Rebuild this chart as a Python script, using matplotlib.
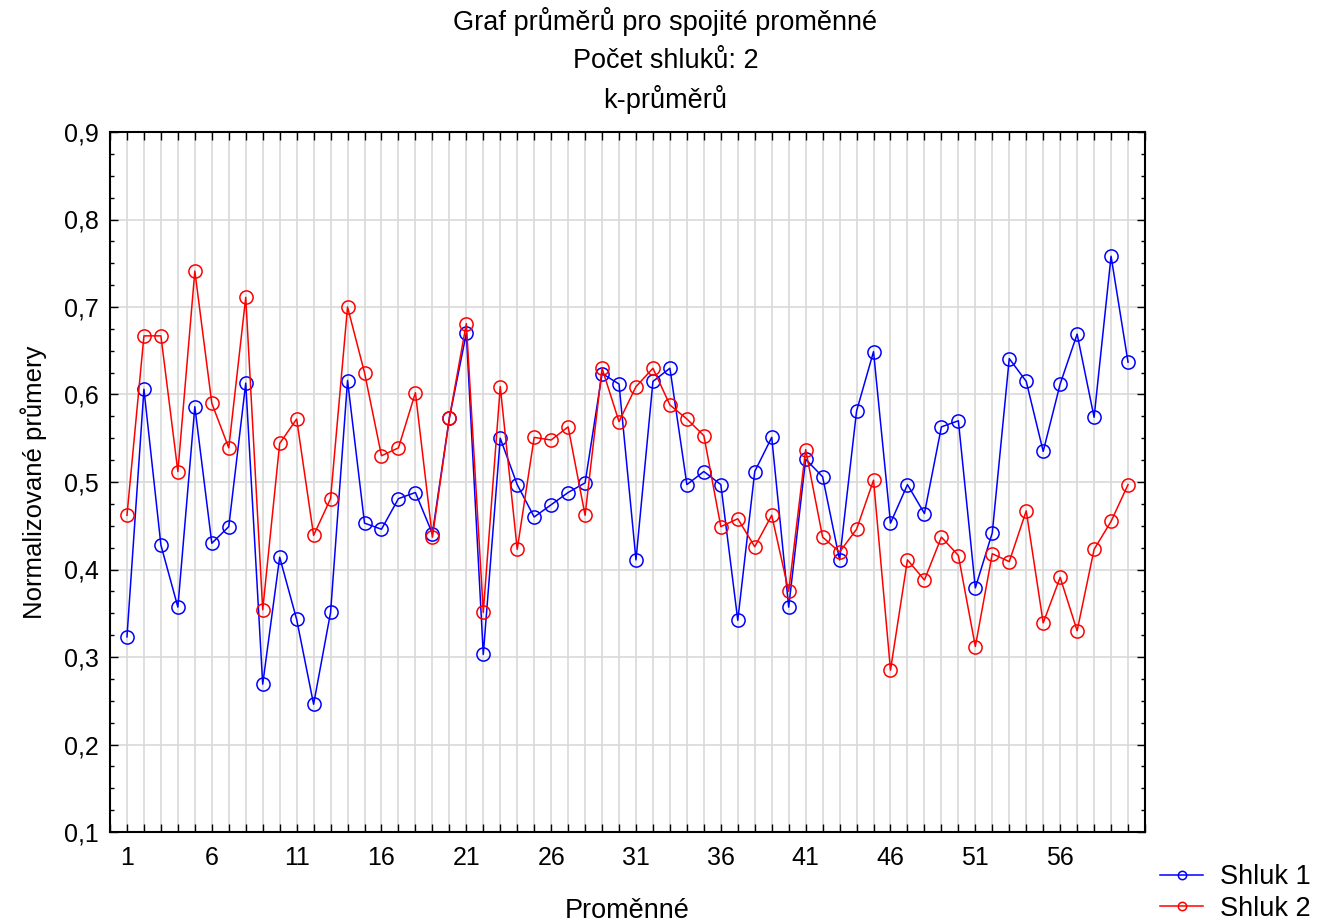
import numpy as np
import matplotlib
matplotlib.use('agg')
import matplotlib.pyplot as plt
from matplotlib.ticker import MultipleLocator, FuncFormatter
from matplotlib.lines import Line2D

plt.rcParams['font.family'] = ['Liberation Sans', 'DejaVu Sans']

promenne = np.arange(1, 61)

shluk1 = [0.323, 0.606, 0.428, 0.357, 0.586, 0.430, 0.449, 0.613, 0.269, 0.414,
          0.343, 0.246, 0.351, 0.616, 0.453, 0.446, 0.481, 0.488, 0.441, 0.573,
          0.670, 0.303, 0.550, 0.497, 0.460, 0.474, 0.488, 0.499, 0.624, 0.612,
          0.411, 0.615, 0.630, 0.497, 0.512, 0.497, 0.342, 0.512, 0.551, 0.357,
          0.526, 0.506, 0.411, 0.581, 0.649, 0.453, 0.497, 0.464, 0.563, 0.570,
          0.379, 0.442, 0.641, 0.615, 0.535, 0.612, 0.669, 0.574, 0.758, 0.637]

shluk2 = [0.462, 0.667, 0.667, 0.512, 0.741, 0.590, 0.539, 0.711, 0.354, 0.544,
          0.572, 0.439, 0.481, 0.700, 0.625, 0.530, 0.539, 0.602, 0.437, 0.573,
          0.681, 0.351, 0.609, 0.423, 0.551, 0.548, 0.563, 0.462, 0.630, 0.569,
          0.609, 0.630, 0.588, 0.572, 0.553, 0.449, 0.458, 0.426, 0.462, 0.375,
          0.537, 0.437, 0.420, 0.446, 0.502, 0.285, 0.411, 0.388, 0.437, 0.416,
          0.312, 0.418, 0.409, 0.467, 0.339, 0.391, 0.330, 0.423, 0.455, 0.497]

mydpi = 100
fig = plt.figure(figsize=(1331/mydpi, 924/mydpi), dpi=mydpi)
ax = fig.add_axes([110/1331, 1-832/924, (1145-110)/1331, (832-132)/924])

ax.plot(promenne, shluk1, color='#0000ff', lw=1.1, marker='o', ms=9.5,
        mfc='none', mec='#0000ff', mew=1.1, label='Shluk 1')
ax.plot(promenne, shluk2, color='#ff0000', lw=1.1, marker='o', ms=9.5,
        mfc='none', mec='#ff0000', mew=1.1, label='Shluk 2')

ax.set_xlim(0, 61)
ax.set_ylim(0.1, 0.9)
ax.xaxis.set_major_locator(MultipleLocator(1))
ax.xaxis.set_major_formatter(FuncFormatter(lambda v, p: f'{int(round(v))}' if int(round(v)) % 5 == 1 and 1 <= v <= 60 else ''))
ax.yaxis.set_major_locator(MultipleLocator(0.1))
ax.yaxis.set_minor_locator(MultipleLocator(0.025))
ax.yaxis.set_major_formatter(FuncFormatter(lambda v, p: f'{v:.1f}'.replace('.', ',')))

ax.grid(True, which='major', color='#d9d9d9', lw=1.2)
ax.set_axisbelow(True)
ax.tick_params(which='both', direction='in', top=True, right=True, labelsize=18, colors='black')
ax.tick_params(which='major', length=6, width=1)
ax.tick_params(which='minor', length=3, width=1)
ax.tick_params(axis='x', pad=10)
ax.tick_params(axis='y', pad=8)
for s in ax.spines.values():
    s.set_linewidth(1.5)

ax.set_xlabel('Proměnné', fontsize=19.5, labelpad=20)
ax.set_ylabel('Normalizované průmery', fontsize=18.5, labelpad=12)

fig.text(0.5, 1-22/924, 'Graf průměrů pro spojité proměnné', ha='center', va='center', fontsize=19.5)
fig.text(0.5, 1-61/924, 'Počet shluků: 2', ha='center', va='center', fontsize=19.5)
fig.text(0.5, 1-100/924, 'k-průměrů', ha='center', va='center', fontsize=19.5)

handles = [Line2D([], [], color='#0000ff', lw=1.1, marker='o', ms=6, mfc='none', mew=1.1),
           Line2D([], [], color='#ff0000', lw=1.1, marker='o', ms=6, mfc='none', mew=1.1)]
fig.legend(handles, ['Shluk 1', 'Shluk 2'], loc='center left',
           bbox_to_anchor=(1160/1331, 1-893/924), frameon=False, fontsize=19.5,
           handlelength=1.6, labelspacing=0.2, borderpad=0, borderaxespad=0,
           handletextpad=0.6)

fig.savefig('out.png', dpi=mydpi)
